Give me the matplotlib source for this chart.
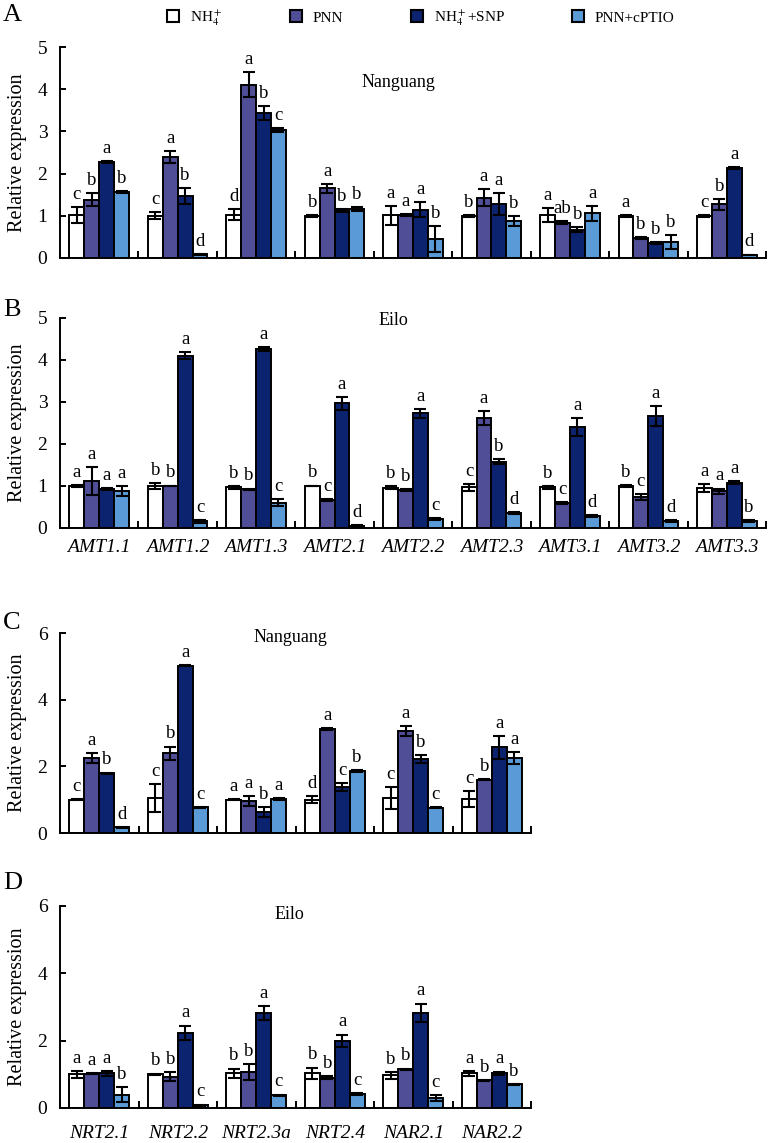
import numpy as np
import matplotlib
matplotlib.use("Agg")
import matplotlib.pyplot as plt
from matplotlib.patches import Patch

plt.rcParams['font.family'] = ['Liberation Serif', 'DejaVu Serif']
plt.rcParams['mathtext.fontset'] = 'stix'

# ---------------- data ----------------
treatments = ['NH$_4^+$', 'PNN', 'NH$_4^+$+SNP', 'PNN+cPTIO']
colors = ['#FFFFFF', '#504E96', '#0C2470', '#5A9BD7']

amt_genes = ['AMT1.1', 'AMT1.2', 'AMT1.3', 'AMT2.1', 'AMT2.2', 'AMT2.3', 'AMT3.1', 'AMT3.2', 'AMT3.3']
nrt_genes = ['NRT2.1', 'NRT2.2', 'NRT2.3a', 'NRT2.4', 'NAR2.1', 'NAR2.2']

# Panel A: Nanguang, AMT genes
A_nh4 = [1.02, 1.00, 1.02, 1.00, 1.01, 1.00, 1.02, 1.00, 1.00]
A_nh4_err = [0.18, 0.08, 0.13, 0.02, 0.23, 0.02, 0.17, 0.02, 0.02]
A_pnn = [1.38, 2.39, 4.11, 1.65, 1.02, 1.43, 0.84, 0.47, 1.27]
A_pnn_err = [0.15, 0.15, 0.30, 0.10, 0.02, 0.20, 0.03, 0.02, 0.13]
A_snp = [2.27, 1.47, 3.44, 1.13, 1.14, 1.28, 0.67, 0.35, 2.13]
A_snp_err = [0.03, 0.18, 0.16, 0.03, 0.18, 0.25, 0.06, 0.02, 0.02]
A_cptio = [1.56, 0.09, 3.03, 1.16, 0.45, 0.87, 1.06, 0.38, 0.07]
A_cptio_err = [0.02, 0.01, 0.04, 0.04, 0.30, 0.12, 0.18, 0.17, 0.01]
A_let_nh4 = ['c', 'c', 'd', 'b', 'a', 'b', 'a', 'a', 'c']
A_let_pnn = ['b', 'a', 'a', 'a', 'a', 'a', 'ab', 'b', 'b']
A_let_snp = ['a', 'b', 'b', 'b', 'a', 'a', 'b', 'b', 'a']
A_let_cptio = ['b', 'd', 'c', 'b', 'b', 'b', 'a', 'b', 'd']

# Panel B: Eilo, AMT genes
B_nh4 = [1.00, 1.00, 0.97, 1.00, 0.96, 0.97, 0.97, 1.00, 0.95]
B_nh4_err = [0.02, 0.07, 0.03, 0.01, 0.03, 0.08, 0.03, 0.02, 0.10]
B_pnn = [1.12, 1.00, 0.92, 0.66, 0.90, 2.62, 0.60, 0.74, 0.87]
B_pnn_err = [0.33, 0.01, 0.02, 0.02, 0.02, 0.17, 0.02, 0.07, 0.07]
B_snp = [0.93, 4.10, 4.26, 2.97, 2.73, 1.58, 2.40, 2.66, 1.08]
B_snp_err = [0.03, 0.08, 0.05, 0.15, 0.11, 0.06, 0.22, 0.24, 0.03]
B_cptio = [0.88, 0.16, 0.60, 0.05, 0.22, 0.36, 0.28, 0.16, 0.17]
B_cptio_err = [0.12, 0.03, 0.08, 0.01, 0.02, 0.02, 0.02, 0.02, 0.02]
B_let_nh4 = ['a', 'b', 'b', 'b', 'b', 'c', 'b', 'b', 'a']
B_let_pnn = ['a', 'b', 'b', 'c', 'b', 'a', 'c', 'c', 'a']
B_let_snp = ['a', 'a', 'a', 'a', 'a', 'b', 'a', 'a', 'a']
B_let_cptio = ['a', 'c', 'c', 'd', 'c', 'd', 'd', 'd', 'b']

# Panel C: Nanguang, NRT/NAR genes
C_nh4 = [1.00, 1.05, 1.00, 1.00, 1.04, 1.02]
C_nh4_err = [0.02, 0.41, 0.02, 0.10, 0.33, 0.23]
C_pnn = [2.24, 2.39, 0.95, 3.12, 3.07, 1.60]
C_pnn_err = [0.15, 0.20, 0.15, 0.02, 0.15, 0.02]
C_snp = [1.79, 5.02, 0.62, 1.37, 2.22, 2.57]
C_snp_err = [0.02, 0.02, 0.15, 0.12, 0.12, 0.35]
C_cptio = [0.17, 0.77, 1.02, 1.87, 0.76, 2.25]
C_cptio_err = [0.01, 0.01, 0.02, 0.03, 0.02, 0.19]
C_let_nh4 = ['c', 'c', 'a', 'd', 'c', 'c']
C_let_pnn = ['a', 'b', 'a', 'a', 'a', 'b']
C_let_snp = ['b', 'a', 'b', 'c', 'b', 'a']
C_let_cptio = ['d', 'c', 'a', 'b', 'c', 'a']

# Panel D: Eilo, NRT/NAR genes
D_nh4 = [1.00, 1.00, 1.03, 1.03, 0.97, 1.03]
D_nh4_err = [0.10, 0.02, 0.14, 0.17, 0.10, 0.07]
D_pnn = [1.02, 0.93, 1.07, 0.90, 1.15, 0.82]
D_pnn_err = [0.02, 0.14, 0.23, 0.05, 0.02, 0.02]
D_snp = [1.03, 2.23, 2.82, 2.00, 2.82, 1.03]
D_snp_err = [0.07, 0.22, 0.20, 0.18, 0.28, 0.05]
D_cptio = [0.40, 0.08, 0.38, 0.42, 0.30, 0.70]
D_cptio_err = [0.22, 0.02, 0.02, 0.02, 0.08, 0.02]
D_let_nh4 = ['a', 'b', 'b', 'b', 'b', 'a']
D_let_pnn = ['a', 'b', 'b', 'b', 'b', 'b']
D_let_snp = ['a', 'a', 'a', 'a', 'a', 'a']
D_let_cptio = ['b', 'c', 'c', 'c', 'c', 'b']

# ---------------- figure ----------------
W, H = 770, 1143
fig = plt.figure(figsize=(W / 100, H / 100), dpi=100)


def add_ax(left, top, width, bottom):
    return fig.add_axes([left / W, 1 - bottom / H, width / W, (bottom - top) / H])


def draw(ax, genes, vals, errs, lets, ymax, ystep, title, txy, show_labels, lab_pad):
    n = len(genes)
    x = np.arange(n) + 0.5
    w = 0.19
    for k in range(4):
        xs = x + (k - 1.5) * w
        ax.bar(xs, vals[k], w, color=colors[k], edgecolor='black', linewidth=1.4, zorder=2)
        ax.errorbar(xs, vals[k], yerr=errs[k], fmt='none', ecolor='black',
                    elinewidth=1.5, capsize=4.5, capthick=1.5, zorder=3)
        for xi, v, e, l in zip(xs, vals[k], errs[k], lets[k]):
            ax.annotate(l, (xi, v + e), xytext=(0, 3), textcoords='offset points',
                        ha='center', va='bottom', fontsize=13.5)
    ax.set_xlim(0, n)
    ax.set_ylim(0, ymax)
    for s in ['top', 'right']:
        ax.spines[s].set_visible(False)
    for s in ['left', 'bottom']:
        ax.spines[s].set_linewidth(1.4)
    ax.set_xticks(np.arange(n + 1))
    ax.set_xticklabels([])
    ax.tick_params(axis='x', which='major', direction='in', length=5, width=1.4)
    ax.set_xticks(x, minor=True)
    if show_labels:
        ax.set_xticklabels(genes, minor=True, fontstyle='italic', fontsize=14)
    ax.tick_params(axis='x', which='minor', length=0, pad=lab_pad)
    ax.set_yticks(np.arange(0, ymax + 0.01, ystep))
    ax.tick_params(axis='y', direction='in', length=4, width=1.4, pad=9, labelsize=14)
    ax.set_ylabel('Relative expression', fontsize=14.5, va='center')
    wpx = ax.get_position().width * W
    ax.yaxis.set_label_coords(-(60 - 18) / wpx, 0.5)
    ax.text(txy[0], txy[1], title, transform=ax.transAxes, ha='center', va='center', fontsize=13)


axA = add_ax(60, 47, 706, 258)
axB = add_ax(60, 318, 706, 528)
axC = add_ax(60, 633, 471, 833)
axD = add_ax(60, 906, 471, 1108)

draw(axA, amt_genes, [A_nh4, A_pnn, A_snp, A_cptio], [A_nh4_err, A_pnn_err, A_snp_err, A_cptio_err],
     [A_let_nh4, A_let_pnn, A_let_snp, A_let_cptio], 5, 1, 'Nanguang', (0.479, 0.83), False, 8)
draw(axB, amt_genes, [B_nh4, B_pnn, B_snp, B_cptio], [B_nh4_err, B_pnn_err, B_snp_err, B_cptio_err],
     [B_let_nh4, B_let_pnn, B_let_snp, B_let_cptio], 5, 1, 'Eilo', (0.472, 0.99), True, 8)
draw(axC, nrt_genes, [C_nh4, C_pnn, C_snp, C_cptio], [C_nh4_err, C_pnn_err, C_snp_err, C_cptio_err],
     [C_let_nh4, C_let_pnn, C_let_snp, C_let_cptio], 6, 2, 'Nanguang', (0.49, 0.98), False, 8)
draw(axD, nrt_genes, [D_nh4, D_pnn, D_snp, D_cptio], [D_nh4_err, D_pnn_err, D_snp_err, D_cptio_err],
     [D_let_nh4, D_let_pnn, D_let_snp, D_let_cptio], 6, 2, 'Eilo', (0.488, 0.96), True, 12)

for lab, ypx in zip(['A', 'B', 'C', 'D'], [15, 310, 623, 883]):
    fig.text(3 / W, 1 - ypx / H, lab, fontsize=19, ha='left', va='center')

handles = [Patch(facecolor=c, edgecolor='black', linewidth=1.5) for c in colors]
fig.legend(handles, treatments, loc='center', bbox_to_anchor=(421 / W, 1 - 18 / H), ncol=4,
           frameon=False, fontsize=11, handlelength=0.8, handleheight=0.8,
           handletextpad=0.7, columnspacing=4.4)

fig.savefig('out.png', dpi=100)
